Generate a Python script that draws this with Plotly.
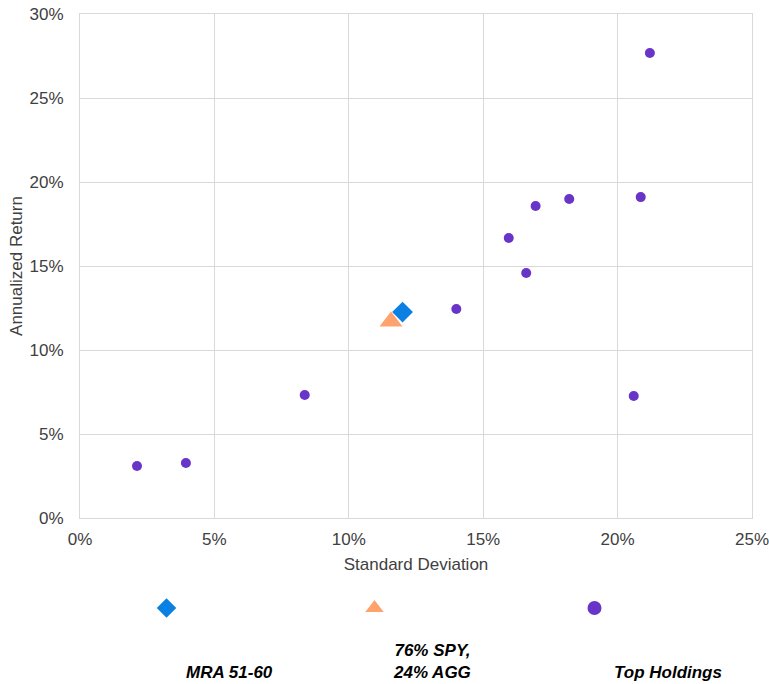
import plotly.graph_objects as go

# ---- data (percent) ----
series_names = ["MRA 51-60", "76% SPY,<br>24% AGG", "Top Holdings"]

mra_sd = [12.0]
mra_ret = [12.26]

bench_sd = [11.57]
bench_ret = [11.7]

top_sd = [2.12, 3.94, 8.36, 14.0, 15.95, 16.6, 16.95, 18.2, 20.6, 20.86, 21.2]
top_ret = [3.10, 3.27, 7.32, 12.44, 16.67, 14.58, 18.57, 18.99, 7.26, 19.1, 27.68]

x_ticks = [0, 5, 10, 15, 20, 25]
y_ticks = [0, 5, 10, 15, 20, 25, 30]

colors = ["#0A80E3", "#FFA36E", "#6935C9"]
symbols = ["diamond", "triangle-up", "circle"]
data_sizes = [16, 20, 10]
legend_sizes = [15, 18, 14]

W, H = 769, 684
L, R, T, B = 80, 17, 14, 166
pw, ph = W - L - R, H - T - B

FONT = "Liberation Sans, Arial, sans-serif"

fig = go.Figure()
datasets = [(mra_sd, mra_ret), (bench_sd, bench_ret), (top_sd, top_ret)]
for i, (xs, ys) in enumerate(datasets):
    fig.add_trace(go.Scatter(
        x=[v / 100 for v in xs], y=[v / 100 for v in ys], mode="markers",
        name=series_names[i].replace("<br>", " "),
        marker=dict(symbol=symbols[i], size=data_sizes[i], color=colors[i], line=dict(width=0)),
        showlegend=False, cliponaxis=False,
        hovertemplate="SD %{x:.1%}<br>Return %{y:.1%}<extra>%{fullData.name}</extra>",
    ))

# legend markers (Excel-like legend: markers in a row, labels below)
legend_marker_px = [166, 374, 594]
legend_label_px = [229, 432, 668]
legend_ids = ["legend", "legend2", "legend3"]
for i in range(3):
    fig.add_trace(go.Scatter(
        x=[None], y=[None], mode="markers", name="",
        marker=dict(symbol=symbols[i], size=legend_sizes[i], color=colors[i], line=dict(width=0)),
        legend=legend_ids[i], showlegend=True, hoverinfo="skip",
    ))

leg_y = (T + ph - 608) / ph
legend_layouts = {}
for i in range(3):
    legend_layouts[legend_ids[i]] = dict(
        x=(legend_marker_px[i] - L - 19.5) / pw, xanchor="left",
        y=leg_y, yanchor="middle", bgcolor="rgba(0,0,0,0)",
        font=dict(size=12, family=FONT), itemclick=False, itemdoubleclick=False,
    )

annotations = []
for i in range(3):
    annotations.append(dict(
        text="<b><i>" + series_names[i] + "</i></b>",
        x=(legend_label_px[i] - L) / pw, xref="paper", xanchor="center",
        y=(T + ph - 684) / ph, yref="paper", yanchor="bottom",
        showarrow=False, align="center",
        font=dict(size=17, color="#000000", family=FONT),
    ))

fig.update_layout(
    width=W, height=H,
    margin=dict(l=L, r=R, t=T, b=B, pad=0, autoexpand=False),
    paper_bgcolor="white", plot_bgcolor="white",
    font=dict(family=FONT, size=17, color="#404040"),
    annotations=annotations,
    **legend_layouts,
)
fig.update_xaxes(
    range=[0, 0.25], tickvals=[v / 100 for v in x_ticks], tickformat=".0%",
    showgrid=True, gridcolor="#D9D9D9", gridwidth=1,
    showline=True, linecolor="#D9D9D9", linewidth=1, mirror=True,
    zeroline=False, ticks="", ticklabelstandoff=6, automargin=False,
    ticklabeloverflow="allow",
    tickfont=dict(size=17, color="#404040"),
    title=dict(text="Standard Deviation", font=dict(size=17, color="#404040"), standoff=9),
)
fig.update_yaxes(
    range=[0, 0.30], tickvals=[v / 100 for v in y_ticks], tickformat=".0%",
    showgrid=True, gridcolor="#D9D9D9", gridwidth=1,
    showline=True, linecolor="#D9D9D9", linewidth=1, mirror=True,
    zeroline=False, ticks="", ticklabelstandoff=12, automargin=False,
    ticklabeloverflow="allow",
    tickfont=dict(size=17, color="#404040"),
    title=dict(text="Annualized Return", font=dict(size=17, color="#404040"), standoff=2),
)

fig.write_html(
    "out.html",
    config={"displayModeBar": False},
    post_script="document.body.style.margin='0';document.body.style.overflow='hidden';",
)
